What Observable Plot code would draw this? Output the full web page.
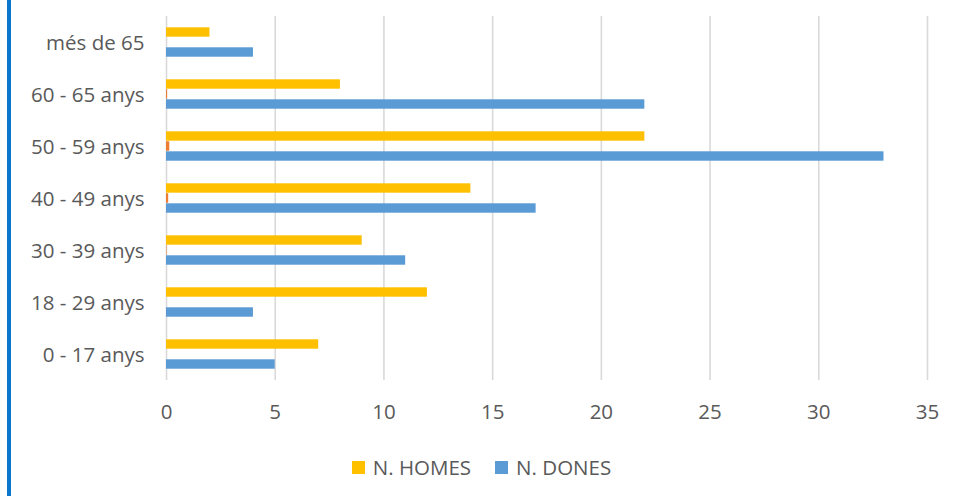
<!DOCTYPE html>
<html>
<head>
<meta charset="utf-8">
<script src="https://cdn.jsdelivr.net/npm/d3@7"></script>
<script src="https://cdn.jsdelivr.net/npm/@observablehq/plot@0.6"></script>
<style>
  html, body { margin: 0; padding: 0; background: #fff; }
  #wrap { position: relative; width: 963px; height: 496px; overflow: hidden; }
  #border { position: absolute; left: 7px; top: 0; width: 4px; height: 496px; background: #0A76CC; }
  #chart { position: absolute; left: 0; top: 0; }
  #legend { position: absolute; left: 0; top: 452px; width: 963px; height: 30px; display: flex; justify-content: center; align-items: center; font-family: "Open Sans", sans-serif; font-size: 20.5px; color: #595959; }
  .item { display: flex; align-items: center; margin: 0 12px; }
  .sw { width: 13px; height: 13px; margin-right: 8px; }
</style>
</head>
<body>
<div id="wrap">
  <div id="chart"></div>
  <div id="border"></div>
  <div id="legend"></div>
</div>
<script>
const categories = ["més de 65", "60 - 65 anys", "50 - 59 anys", "40 - 49 anys", "30 - 39 anys", "18 - 29 anys", "0 - 17 anys"];
const homes = [2, 8, 22, 14, 9, 12, 7];
const altres = [0, 0.05, 0.15, 0.1, 0.02, 0, 0];
const dones = [4, 22, 33, 17, 11, 4, 5];
const seriesNames = ["N. HOMES", "ALTRES", "N. DONES"];
const seriesColors = ["#FFC000", "#ED7D31", "#5B9BD5"];
const xTicks = [0, 5, 10, 15, 20, 25, 30, 35];

const data = [];
categories.forEach((c, i) => {
  data.push({cat: c, s: seriesNames[0], v: homes[i]});
  data.push({cat: c, s: seriesNames[1], v: altres[i]});
  data.push({cat: c, s: seriesNames[2], v: dones[i]});
});

const chart = Plot.plot({
  width: 963,
  height: 452,
  marginTop: 15,
  marginBottom: 71,
  marginLeft: 166,
  marginRight: 36,
  style: {fontFamily: "'Open Sans', sans-serif", fontSize: "20.5px", color: "#595959", background: "transparent"},
  x: {domain: [0, 35], ticks: xTicks, label: null},
  fy: {domain: categories, padding: 0, label: null},
  y: {domain: seriesNames, paddingInner: 0, paddingOuter: 0.88, axis: null},
  color: {domain: seriesNames, range: seriesColors},
  marks: [
    Plot.gridX(xTicks, {stroke: "#D9D9D9", strokeOpacity: 1, strokeWidth: 1.6, facet: null}),
    Plot.axisX({ticks: xTicks, tickSize: 0, tickPadding: 24, label: null, fontSize: 20.5, fill: "#595959", facetAnchor: "bottom"}),
    Plot.axisFy({anchor: "left", tickSize: 0, tickPadding: 22, label: null, fontSize: 20.5, fill: "#595959", dy: 1}),
    Plot.barX(data, {fy: "cat", y: "s", x: "v", fill: "s", insetTop: 0.3, insetBottom: 0.3})
  ]
});
document.getElementById("chart").appendChild(chart);

const lg = document.getElementById("legend");
[0, 2].forEach(i => {
  const it = document.createElement("div");
  it.className = "item";
  it.innerHTML = `<span class="sw" style="background:${seriesColors[i]}"></span><span>${seriesNames[i]}</span>`;
  lg.appendChild(it);
});
</script>
</body>
</html>
